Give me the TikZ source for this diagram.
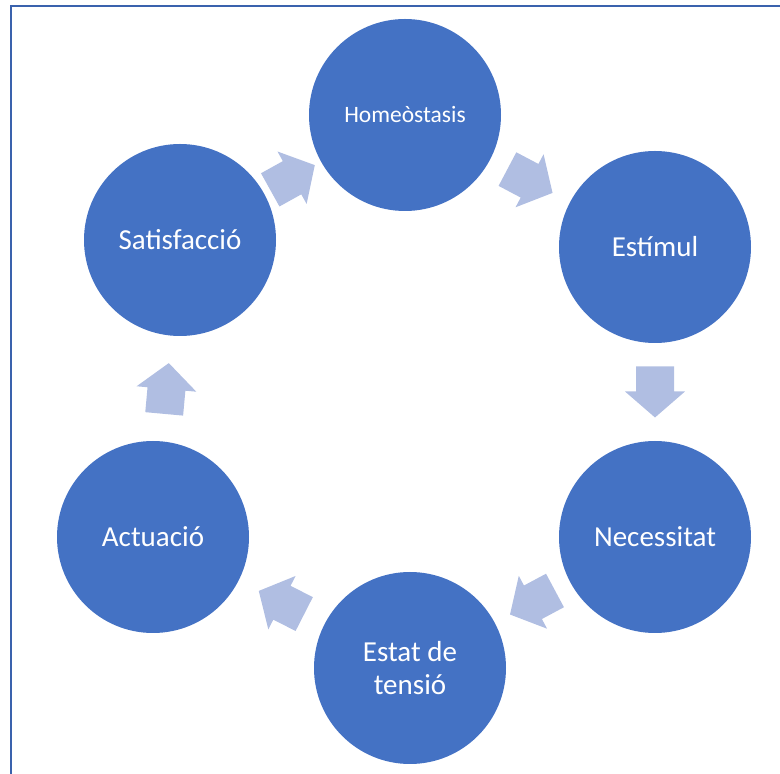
\documentclass[tikz,border=0pt]{standalone}
\usepackage{fontspec}
\setmainfont{Carlito}
\usetikzlibrary{calc}
\definecolor{nodeblue}{HTML}{4472C4}
\definecolor{arrowblue}{HTML}{B0BEE2}
\definecolor{frameblue}{HTML}{3A62AD}
\tikzset{
  stage/.style={circle, fill=nodeblue, draw=none, minimum size=192pt, inner sep=0pt,
    text=white, align=center, font=\fontsize{29}{33}\selectfont},
  smallstage/.style={stage, font=\fontsize{23.5}{27}\selectfont},
  pics/cyclearrow/.style={code={
    \fill[arrowblue] (-25.5,-19) -- (-0.5,-19) -- (-0.5,-30) -- (25.5,0)
      -- (-0.5,30) -- (-0.5,19) -- (-25.5,19) -- cycle;
  }},
  frameline/.style={draw=frameblue, line width=2pt}
}
\begin{document}
\begin{tikzpicture}[x=1pt, y=1pt]
\useasboundingbox (0,0) rectangle (780,774);
% open frame: left and top edges only
\coordinate (fbl) at (11,0);
\coordinate (ftl) at (11,768);
\coordinate (ftr) at (780,768);
\draw[frameline] (fbl) -- (ftl) -- (ftr);

% the six stages of the cycle
\node[smallstage] (homeo) at (405,659) {Homeòstasis};
\node[stage] (estimul) at (655,527) {Estímul};
\node[stage] (necess) at (655,237) {Necessitat};
\node[stage] (tensio) at (410,106) {Estat de\\tensió};
\node[stage] (actua) at (153,237) {Actuació};
\node[stage] (satisf) at (180,534) {Satisfacció};

% block arrows halfway between consecutive stages, pointing forward
\foreach \a/\b in {satisf/homeo, homeo/estimul, estimul/necess,
                   necess/tensio, tensio/actua, actua/satisf} {
  \path let \p1=(\a.center), \p2=(\b.center),
            \n1={atan2(\y2-\y1,\x2-\x1)} in
    pic[rotate=\n1] at ($(\a.center)!0.5!(\b.center)$) {cyclearrow};
}
\end{tikzpicture}
\end{document}
